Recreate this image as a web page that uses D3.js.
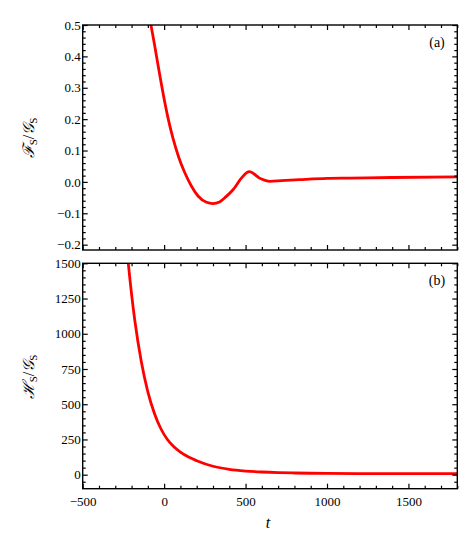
<!DOCTYPE html>
<html><head><meta charset="utf-8">
<script src="https://cdn.jsdelivr.net/npm/d3@7"></script>
<style>body{margin:0;background:#fff}svg{display:block}</style>
</head><body>
<script>
// Data
const fT = [-90,-81,-60,-40,-20,0,25,55,90,127,168,208,260,300,340,380,423,474,505,525,550,586,620,650,720,831,1000,1138,1400,1800];
const fV = [0.525,0.5,0.44,0.38,0.321,0.264,0.201,0.138,0.078,0.029,-0.014,-0.045,-0.065,-0.069,-0.064,-0.047,-0.025,0.012,0.029,0.033,0.026,0.012,0.005,0.002,0.004,0.007,0.011,0.012,0.014,0.016];
const hT = [-230,-220,-180,-140,-100,-60,-20,20,60,100,150,200,300,400,500,600,700,800,900,1000,1200,1500,1800];
const hV = [1620,1500,1094,801,588,436,326,250,198,160,125,99,60,38,26,19,14.5,12,10.3,9.2,8,7.3,7.1];
const xTicks = [-500,0,500,1000,1500];
const fTicks = [-0.2,-0.1,0.0,0.1,0.2,0.3,0.4,0.5];
const hTicks = [0,250,500,750,1000,1250,1500];

const W = 467, H = 545;
const svg = d3.select("body").append("svg").attr("width", W).attr("height", H);
const left = 82.7, right = 457.3;
const x = d3.scaleLinear().domain([-500, 1800]).range([left, right]);
const SERIF = "'Liberation Serif', 'Times New Roman', serif";

const fmtMinus = s => s.replace("-", "\u2212");

function panel(cfg) {
  const y = d3.scaleLinear().domain(cfg.domain).range([cfg.bottom, cfg.top]);
  const g = svg.append("g");
  const clipId = "clip" + cfg.id;
  svg.append("clipPath").attr("id", clipId).append("rect")
    .attr("x", left).attr("y", cfg.top).attr("width", right - left).attr("height", cfg.bottom - cfg.top);

  const line = d3.line().x(d => x(d[0])).y(d => y(d[1])).curve(d3.curveMonotoneX);
  g.append("path").datum(cfg.t.map((t, i) => [t, cfg.v[i]]))
    .attr("clip-path", `url(#${clipId})`)
    .attr("d", line).attr("fill", "none").attr("stroke", "#ff0000").attr("stroke-width", 2.8)
    .attr("stroke-linejoin", "round");

  const xMinor = d3.range(-500, 1801, 100).filter(v => v % 500 !== 0);
  const yMinor = d3.range(cfg.minorStart, cfg.domain[1] + 1e-9, cfg.minorStep)
    .filter(v => v >= cfg.domain[0] - 1e-9 && !cfg.ticks.some(t => Math.abs(t - v) < 1e-6));

  const bAx = g.append("g").attr("transform", `translate(0,${cfg.bottom})`)
    .call(d3.axisBottom(x).tickValues(xTicks).tickSizeInner(-5).tickSizeOuter(0)
      .tickFormat(cfg.showX ? d => fmtMinus(String(d)) : ""));
  g.append("g").attr("transform", `translate(0,${cfg.bottom})`)
    .call(d3.axisBottom(x).tickValues(xMinor).tickSizeInner(-3).tickSizeOuter(0).tickFormat(""));
  g.append("g").attr("transform", `translate(0,${cfg.top})`)
    .call(d3.axisTop(x).tickValues(xTicks).tickSizeInner(-5).tickSizeOuter(0).tickFormat(""));
  g.append("g").attr("transform", `translate(0,${cfg.top})`)
    .call(d3.axisTop(x).tickValues(xMinor).tickSizeInner(-3).tickSizeOuter(0).tickFormat(""));

  const lAx = g.append("g").attr("transform", `translate(${left},0)`)
    .call(d3.axisLeft(y).tickValues(cfg.ticks).tickSizeInner(-5).tickSizeOuter(0).tickFormat(d => fmtMinus(cfg.fmt(d))));
  g.append("g").attr("transform", `translate(${left},0)`)
    .call(d3.axisLeft(y).tickValues(yMinor).tickSizeInner(-3).tickSizeOuter(0).tickFormat(""));
  g.append("g").attr("transform", `translate(${right},0)`)
    .call(d3.axisRight(y).tickValues(cfg.ticks).tickSizeInner(-5).tickSizeOuter(0).tickFormat(""));
  g.append("g").attr("transform", `translate(${right},0)`)
    .call(d3.axisRight(y).tickValues(yMinor).tickSizeInner(-3).tickSizeOuter(0).tickFormat(""));

  g.selectAll(".domain").remove();
  g.selectAll(".tick line").attr("stroke", "#000").attr("stroke-width", 1.2);
  g.selectAll(".tick text").style("font-family", SERIF).style("font-size", "13px").attr("fill", "#000");
  lAx.selectAll(".tick text").attr("x", -2);
  bAx.selectAll(".tick text").attr("dy", "0").attr("y", 17);

  g.append("rect").attr("x", left).attr("y", cfg.top).attr("width", right - left).attr("height", cfg.bottom - cfg.top)
    .attr("fill", "none").attr("stroke", "#000").attr("stroke-width", 1.4);

  g.append("text").attr("x", 437).attr("y", cfg.top + 22).attr("text-anchor", "middle")
    .style("font-family", SERIF).style("font-size", "14px").text(cfg.tag);

  const lab = g.append("text").attr("transform", `translate(34,${cfg.labelY}) rotate(-90)`)
    .attr("text-anchor", "middle").style("font-family", "'DejaVu Serif', serif").style("font-size", "16px");
  lab.append("tspan").style("font-style", "italic").text(cfg.sym);
  lab.append("tspan").style("font-family", SERIF).style("font-size", "11px").attr("dy", 3).text("S");
  lab.append("tspan").attr("dy", -3).style("font-family", SERIF).text("/");
  lab.append("tspan").style("font-style", "italic").text("\uD835\uDCA2");
  lab.append("tspan").style("font-family", SERIF).style("font-size", "11px").attr("dy", 3).text("S");
}

panel({id: "a", top: 25, bottom: 250, domain: [-0.217, 0.5], ticks: fTicks, minorStart: -0.2, minorStep: 0.02,
  fmt: d => d.toFixed(1), t: fT, v: fV, showX: false, tag: "(a)", sym: "\u2131", labelY: 138});
panel({id: "b", top: 263.3, bottom: 488.7, domain: [-99.4, 1500], ticks: hTicks, minorStart: -50, minorStep: 50,
  fmt: d => String(d), t: hT, v: hV, showX: true, tag: "(b)", sym: "\u210B", labelY: 377});

svg.append("text").attr("x", 268).attr("y", 528).attr("text-anchor", "middle")
  .style("font-family", SERIF).style("font-style", "italic").style("font-size", "16px").text("t");
</script>
</body></html>
